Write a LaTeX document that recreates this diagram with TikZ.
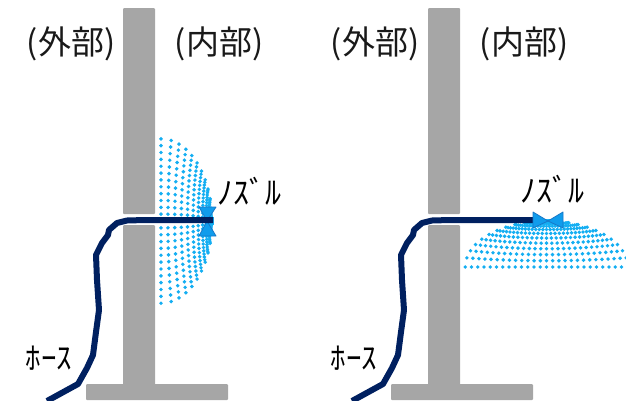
\documentclass[tikz,border=0pt]{standalone}
\usepackage{fontspec}
\setmainfont{Noto Sans CJK JP}
\definecolor{wallgray}{HTML}{A6A6A6}
\definecolor{hoseblue}{HTML}{002060}
\definecolor{spray}{HTML}{14AEF2}
\definecolor{nozfill}{HTML}{109CEC}
\definecolor{nozedge}{HTML}{1878C8}
\tikzset{
  wallpart/.style={fill=wallgray,rounded corners=1pt},
  hoseline/.style={draw=hoseblue,line width=6pt,line join=round},
  nozzlepart/.style={fill=nozfill,draw=nozedge,line width=.8pt,line join=round},
  biglabel/.style={font=\fontsize{33}{38}\selectfont,inner sep=0pt,text=black!90},
  nozlabel/.style={font=\fontsize{32}{36}\selectfont,inner sep=0pt,text=black},
  hoselabel/.style={font=\fontsize{31}{36}\selectfont,inner sep=0pt,text=black}
}
\begin{document}
\begin{tikzpicture}[x=1pt,y=-1pt]
\useasboundingbox (0,0) rectangle (626,400);
% left scene walls
\fill[wallpart] (123,8) rectangle (155,214);
\fill[wallpart] (123,225) rectangle (155,390);
\fill[wallpart] (86,384) rectangle (228,400);
% right scene walls
\fill[wallpart] (428,8) rectangle (460,214);
\fill[wallpart] (428,225) rectangle (460,390);
\fill[wallpart] (391,384) rectangle (533,400);
% left spray: dome opening to the wall
\foreach \m in {-12,...,12}{
  \foreach \p in {0,...,11}{
    \pgfmathsetmacro{\u}{abs(\m)/12}
    \pgfmathsetmacro{\angc}{\p*7.8}
    \pgfmathsetmacro{\ango}{\p==0 ? 0 : 88*pow(\p/11,0.85)}
    \pgfmathsetmacro{\ang}{\angc+\u*\u*(\ango-\angc)}
    \pgfmathsetmacro{\dotx}{161+51*sin(\ang)}
    \pgfmathsetmacro{\doty}{221+\m*6.85*cos(\ang)}
    \fill[spray] (\dotx,\doty) circle[radius=1.95];
  }
}
% right spray: dome opening downwards
\foreach \m in {-13,...,13}{
  \foreach \p in {0,...,11}{
    \pgfmathsetmacro{\u}{abs(\m)/13}
    \pgfmathsetmacro{\angc}{\p*7.8}
    \pgfmathsetmacro{\ango}{\p==0 ? 0 : 88*pow(\p/11,0.85)}
    \pgfmathsetmacro{\ang}{\angc+\u*\u*(\ango-\angc)}
    \pgfmathsetmacro{\dotx}{546.5+\m*6.25*cos(\ang)}
    \pgfmathsetmacro{\doty}{267-46*sin(\ang)}
    \fill[spray] (\dotx,\doty) circle[radius=1.95];
  }
}
% nozzle of the left scene, below its hose
\coordinate (nozA) at (213,220);
\coordinate (nozB) at (538,220);
\coordinate (hoseA) at (47,401);
\coordinate (hoseB) at (352,401);
\fill[nozzlepart] (199,207) -- (216,207) -- (207,221) -- cycle;
\fill[nozzlepart] (199,236) -- (216,236) -- (207,221) -- cycle;
% hoses
\draw[hoseline] (hoseA) -- (78,384) -- (87,368) -- (93,355) -- (96,332) -- (99,310) -- (97,280) -- (96,255) -- (102,243) -- (108,235) -- (109,230) -- (117,223) -- (127,220.5) -- (145,220) -- (nozA);
\draw[hoseline] (hoseB) -- (383,384) -- (392,368) -- (398,355) -- (401,332) -- (404,310) -- (402,280) -- (401,255) -- (407,243) -- (413,235) -- (414,230) -- (422,223) -- (432,220.5) -- (450,220) -- (nozB);
% nozzle of the right scene, above its hose
\fill[nozzlepart] (533,212) -- (533,228) -- (548,221) -- cycle;
\fill[nozzlepart] (563,212) -- (563,228) -- (548,221) -- cycle;
% labels
\node[biglabel] (outA) at (71,44) {(外部)};
\node[biglabel] (inA) at (219,44) {(内部)};
\node[biglabel] (outB) at (375,44) {(外部)};
\node[biglabel] (inB) at (524,44) {(内部)};
\node[nozlabel] (nozLabelA) at (249,191) {ﾉｽﾞﾙ};
\node[nozlabel] (nozLabelB) at (552,189) {ﾉｽﾞﾙ};
\node[hoselabel] (hoseLabelA) at (49,358) {ﾎｰｽ};
\node[hoselabel] (hoseLabelB) at (354,358) {ﾎｰｽ};
\end{tikzpicture}
\end{document}
